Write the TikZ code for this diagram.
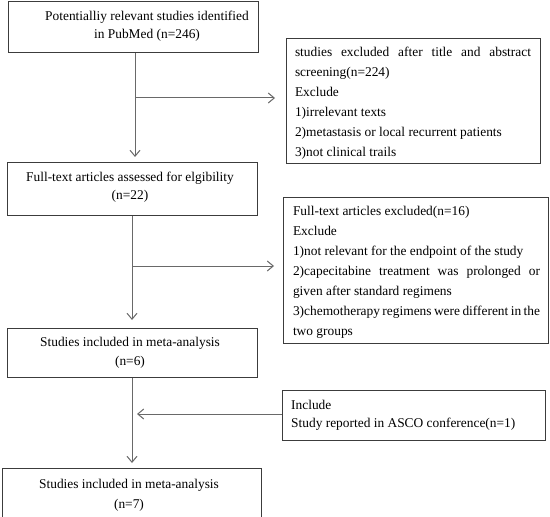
\documentclass[tikz,border=0pt]{standalone}
\usepackage{fontspec}
\setmainfont{Liberation Serif}
\usetikzlibrary{arrows.meta,calc}
\definecolor{boxc}{RGB}{60,60,60}
\definecolor{lnc}{RGB}{105,105,105}
\tikzset{
  box/.style={draw=boxc, line width=1.2bp, inner sep=0pt, anchor=north west},
  txt/.style={inner sep=0pt, text=black},
  fs18/.style={font=\fontsize{13.4bp}{18bp}\selectfont},
  fs19/.style={font=\fontsize{13.4bp}{19bp}\selectfont},
  fs20/.style={font=\fontsize{13.4bp}{20bp}\selectfont},
  conn/.style={draw=lnc, line width=1bp, -{Straight Barb[length=6bp,width=10bp]}}
}
\begin{document}
\begin{tikzpicture}[x=1bp,y=-1bp]
\useasboundingbox (0,0) rectangle (550,517);
% box 1
\node[box, minimum width=250bp, minimum height=51bp] (b1) at (8,1) {};
\node[txt, fs18, align=center] (t1) at (147,26.5) {Potentialliy relevant studies identified\\in PubMed (n=246)};
% box 2
\node[box, minimum width=254bp, minimum height=125bp] (b2) at (286,38) {};
\node[txt, fs20, text width=236bp, align=justify] (t2) at (413,103.5) {\parindent=0pt\tolerance=10000\hyphenpenalty=10000 studies excluded after title and abstract screening(n=224)\par Exclude\par 1)irrelevant texts\par 2)metastasis or local recurrent patients\par 3)not clinical trails};
% box 3
\node[box, minimum width=250bp, minimum height=53bp] (b3) at (7,162) {};
\node[txt, fs18, align=center] (t3) at (130,187) {Full-text articles assessed for elgibility\\(n=22)};
% box 4
\node[box, minimum width=265bp, minimum height=146bp] (b4) at (283,197) {};
\node[txt, fs20, text width=247bp, align=justify] (t4) at (416.5,272.5) {\parindent=0pt\tolerance=10000\hyphenpenalty=10000 Full-text articles excluded(n=16)\par Exclude\par 1)not relevant for the endpoint of the study\par 2)capecitabine treatment was prolonged or given after standard regimens\par 3)chemotherapy regimens were different in the two groups};
% box 5
\node[box, minimum width=250bp, minimum height=49bp] (b5) at (7,328) {};
\node[txt, fs19, align=center] (t5) at (130,353) {Studies included in meta-analysis\\(n=6)};
% box 6
\node[box, minimum width=263bp, minimum height=50bp] (b6) at (282,390) {};
\node[txt, fs18, align=left, anchor=west] (t6) at (291,415) {Include\\Study reported in ASCO conference(n=1)};
% box 7
\node[box, minimum width=259bp, minimum height=48.5bp] (b7) at (2,468) {};
\node[txt, fs20, align=center] (t7) at (129,495.5) {Studies included in meta-analysis\\(n=7)};
% connectors
\coordinate (v1) at (135,98);
\coordinate (v2) at (132,266);
\coordinate (v3) at (137,414);
\draw[conn] (b1.south -| v1) -- ([yshift=5bp]b3.north -| v1);
\draw[conn] (v1) -- ([xshift=-11bp]b2.west |- v1);
\draw[conn] (b3.south -| v2) -- ([yshift=8bp]b5.north -| v2);
\draw[conn] (v2) -- ([xshift=-9bp]b4.west |- v2);
\draw[conn] (b5.south -| v2) -- ([yshift=5bp]b7.north -| v2);
\draw[conn] (b6.west |- v3) -- (v3);
\end{tikzpicture}
\end{document}
